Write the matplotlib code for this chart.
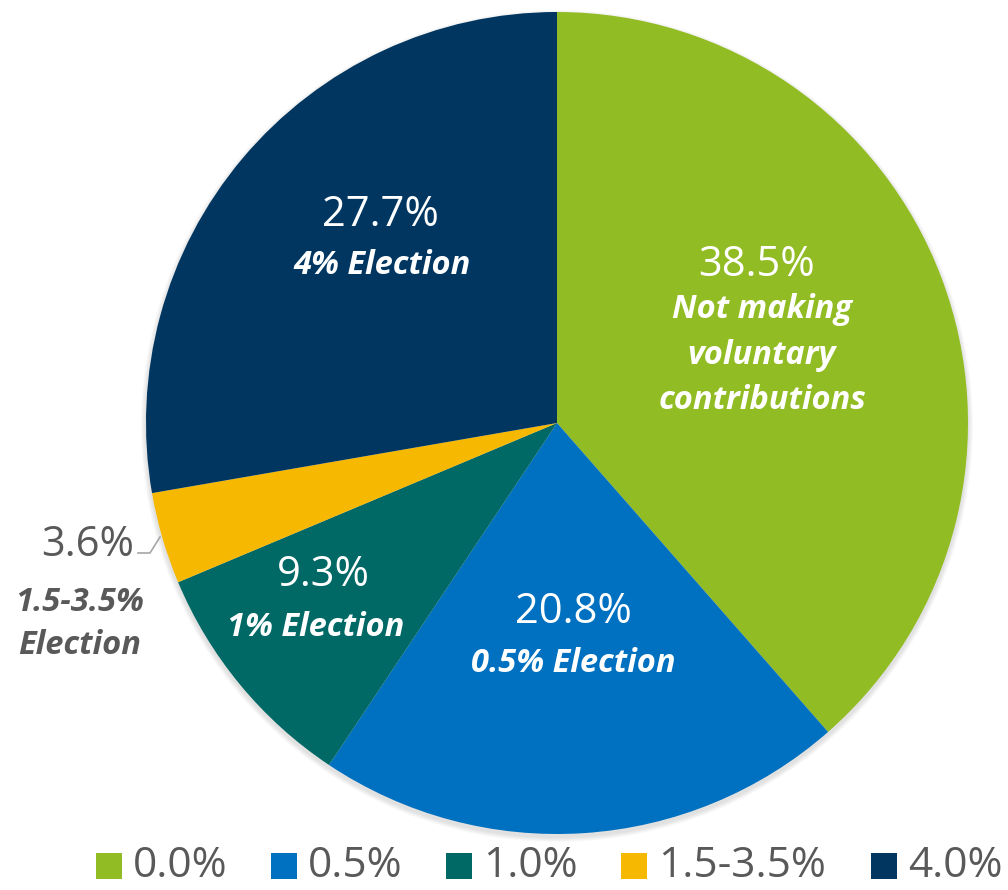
import matplotlib.pyplot as plt
from matplotlib.patches import Rectangle, Circle

plt.rcParams['font.family'] = ['Open Sans', 'DejaVu Sans']

# 数据
categories = ['0.0%', '0.5%', '1.0%', '1.5-3.5%', '4.0%']
shares = [38.5, 20.8, 9.3, 3.6, 27.7]
notes = ['Not making\nvoluntary\ncontributions', '0.5% Election', '1% Election',
         '1.5-3.5%\nElection', '4% Election']
colors = ['#92BC24', '#0070C0', '#006865', '#F6B800', '#003660']

W, H = 1008, 890
fig = plt.figure(figsize=(W / 100, H / 100), dpi=100)
ax = fig.add_axes([0, 0, 1, 1])

cx, cy, r = 557, H - 423, 411

# 轻微阴影
for k in range(1, 6):
    ax.add_patch(Circle((cx, cy - 3), r + k, color='black', alpha=0.025,
                        lw=0, zorder=0))

wedges, _ = ax.pie(shares, colors=colors, startangle=90, counterclock=False,
                   center=(cx, cy), radius=r, frame=True,
                   wedgeprops=dict(linewidth=0, zorder=1))
ax.set_xlim(0, W)
ax.set_ylim(0, H)
ax.set_aspect('equal')
ax.axis('off')

# 标签位置（像素坐标，y 从顶部算）
num_pos = [(757, 265), (573, 612), (323, 575), (134, 545), (380, 215)]
note_pos = [(762, 355), (573, 663), (316, 628), (80, 624), (382, 265)]
num_fs = 30
note_fs = 23.5
for i in range(len(shares)):
    txt_col = 'white' if i != 3 else '#595959'
    nx, ny = num_pos[i]
    ha = 'center' if i != 3 else 'right'
    ax.text(nx, H - ny, f'{shares[i]}%', color=txt_col, fontsize=num_fs,
            ha=ha, va='center', zorder=3)
    tx, ty = note_pos[i]
    ax.text(tx, H - ty, notes[i], color=txt_col, fontsize=note_fs,
            fontweight='bold', fontstyle='italic', ha='center', va='center',
            linespacing=1.5 if i == 0 else 1.4, zorder=3)

# 引导线
ax.plot([138, 150, 160], [H - 553, H - 553, H - 537], color='#A6A6A6', lw=1.2)

# 图例（手动放置）
leg_x = [96, 271, 446, 621, 871]
for x0, c, lab in zip(leg_x, colors, categories):
    ax.add_patch(Rectangle((x0, H - 879), 26, 26, color=c, lw=0))
    ax.text(x0 + 37, H - 877, lab, color='#595959', fontsize=30.5,
            ha='left', va='baseline')

fig.savefig('out.png', dpi=100)
